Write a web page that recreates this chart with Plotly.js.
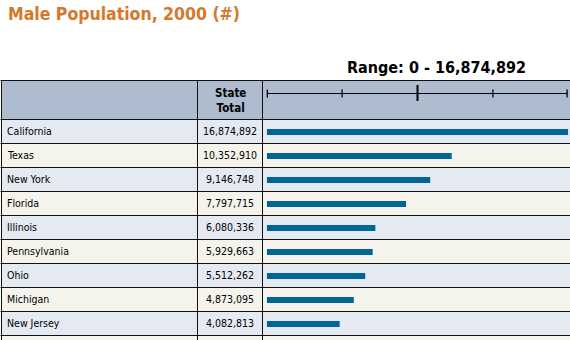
<!DOCTYPE html>
<html>
<head>
<meta charset="utf-8">
<script src="https://cdn.plot.ly/plotly-3.0.1.min.js"></script>
<style>html,body{margin:0;padding:0;background:#fff;}#chart{width:570px;height:340px;}</style>
</head>
<body>
<div id="chart"></div>
<script>
// ---- data ----
const states = ['California','Texas','New York','Florida','Illinois','Pennsylvania','Ohio','Michigan','New Jersey'];
const malePop = [16874892,10352910,9146748,7797715,6080336,5929663,5512262,4873095,4082813];
const chartTitle = 'Male Population, 2000 (#)';
const columnHeader = 'State<br>Total';
const scaleFractions = [0, 0.25, 0.5, 0.75, 1];

// ---- layout helpers (pixel -> paper) ----
const W = 570, H = 340;
const px = x => x / W;
const py = y => 1 - y / H;
const FONT = 'DejaVu Sans Condensed, DejaVu Sans, sans-serif';
const fmt = v => v.toLocaleString('en-US');
const maxVal = Math.max(...malePop);

const headerTop = 80, headerBottom = 119, rowH = 24, nBands = 10;
const colA = 1, colB = 197.5, colC = 262.5;
const lineCol = '#111';

const shapes = [];
// header background
shapes.push({type:'rect', xref:'paper', yref:'paper', x0:px(colA), x1:1, y0:py(headerBottom), y1:py(headerTop),
  fillcolor:'#adbdcf', line:{width:0}, layer:'below'});
// row bands
for (let i = 0; i < nBands; i++) {
  shapes.push({type:'rect', xref:'paper', yref:'paper', x0:px(colA), x1:1,
    y0:Math.max(0, py(headerBottom + rowH*(i+1))), y1:py(headerBottom + rowH*i),
    fillcolor: i % 2 === 0 ? '#e5e9f2' : '#f4f4ec', line:{width:0}, layer:'below'});
}
// horizontal borders
const hLines = [headerTop, headerBottom];
for (let i = 1; i < nBands; i++) hLines.push(headerBottom + rowH*i);
hLines.forEach(y => shapes.push({type:'line', xref:'paper', yref:'paper', x0:px(colA-0.5), x1:1,
  y0:py(y+0.5), y1:py(y+0.5), line:{color:lineCol, width:1}, layer:'above'}));
// vertical borders
[colA+0.5, colB, colC].forEach(x => shapes.push({type:'line', xref:'paper', yref:'paper', x0:px(x), x1:px(x),
  y0:0, y1:py(headerTop), line:{color:lineCol, width:1}, layer:'above'}));
// scale in header (fractions of the x range)
const scaleY = 93.5;
shapes.push({type:'line', xref:'x domain', yref:'paper', x0:0.002, x1:0.996, y0:py(scaleY), y1:py(scaleY),
  line:{color:'#000', width:1}});
scaleFractions.forEach((f, k) => {
  const mid = (f === 0.5);
  const xf = f === 0 ? 0.002 : (f === 1 ? 0.996 : f);
  shapes.push({type:'line', xref:'x domain', yref:'paper', x0:xf, x1:xf,
    y0:py(mid ? 101 : 97.5), y1:py(mid ? 85 : 89.5), line:{color:'#000', width: mid ? 2 : 1.3}});
});

const annotations = [];
states.forEach((s, i) => {
  annotations.push({xref:'paper', yref:'y', x:px(5), y:s, text:s, showarrow:false, xanchor:'left', yanchor:'middle',
    yshift:1, font:{family:FONT, size:10.5, color:'#000'}});
  annotations.push({xref:'paper', yref:'y', x:px(230), y:s, text:fmt(malePop[i]), showarrow:false, xanchor:'center', yanchor:'middle',
    yshift:1, font:{family:FONT, size:10.5, color:'#000'}});
});
annotations.push({xref:'paper', yref:'paper', x:px(230), y:py(100), text:columnHeader, showarrow:false,
  xanchor:'center', yanchor:'middle', font:{family:FONT, size:11.5, color:'#000', weight:'bold'}});
annotations.push({xref:'paper', yref:'paper', x:px(436.5), y:py(68), text:'Range: 0 - ' + fmt(maxVal), showarrow:false,
  xanchor:'center', yanchor:'middle', font:{family:FONT, size:16, color:'#000', weight:'bold'}});

const rowTopVal = -13/24;
const data = [{
  type:'bar', orientation:'h', x: malePop, y: states, width: 0.25,
  marker:{color:'#006699', line:{width:0}}, hoverinfo:'none'
}];

const layout = {
  width: W, height: H,
  margin:{l:0, r:0, t:0, b:0},
  paper_bgcolor:'#fff', plot_bgcolor:'rgba(0,0,0,0)',
  showlegend:false,
  title:{text: chartTitle, x: px(8), xanchor:'left', xref:'paper', y: py(13.5), yref:'paper', yanchor:'middle',
    font:{family:FONT, size:17.5, color:'#d5782b', weight:'bold'}},
  xaxis:{domain:[px(266.7), px(568.3)], range:[0, maxVal], visible:false, fixedrange:true},
  yaxis:{domain:[0, py(headerBottom)], type:'category', categoryorder:'array', categoryarray: states,
    range:[rowTopVal + (H - headerBottom)/rowH, rowTopVal], visible:false, fixedrange:true},
  shapes: shapes,
  annotations: annotations
};

Plotly.newPlot('chart', data, layout, {displayModeBar:false, staticPlot:true});
</script>
</body>
</html>
